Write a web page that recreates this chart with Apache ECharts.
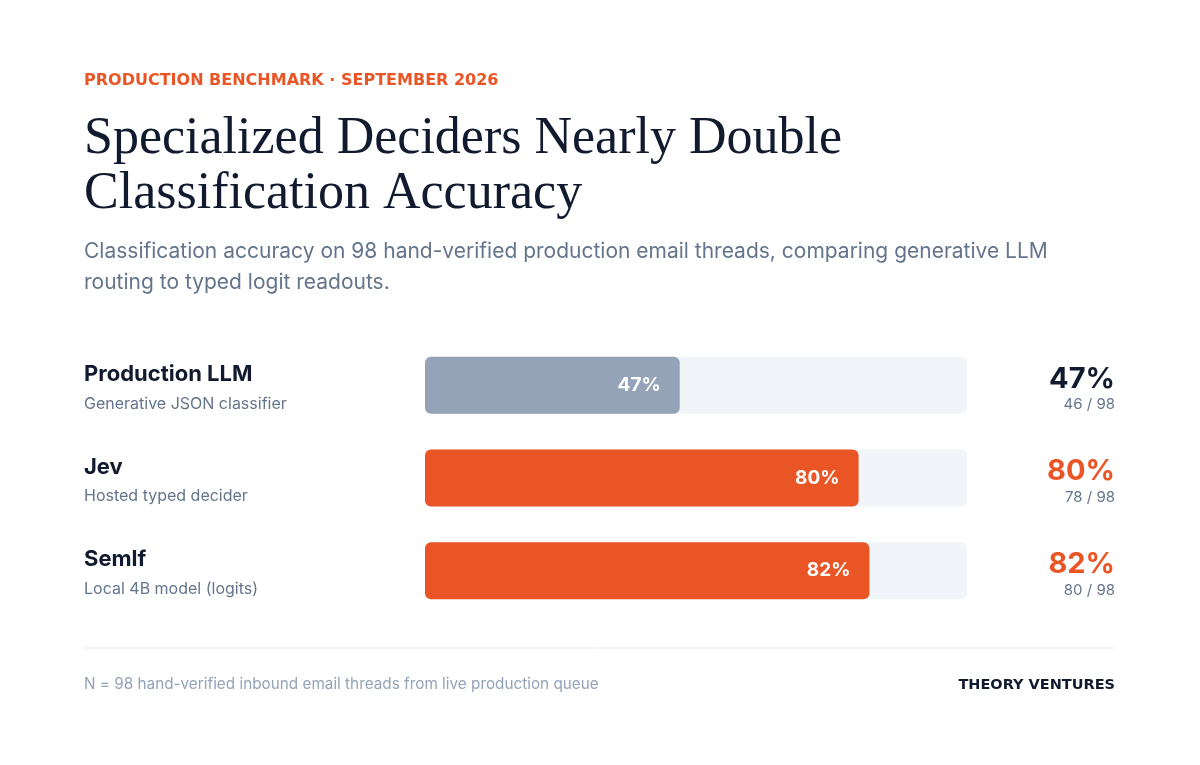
<!DOCTYPE html>
<html>
<head>
<meta charset="utf-8">
<script src="https://cdn.jsdelivr.net/npm/echarts@6/dist/echarts.min.js"></script>
<style>
  html, body { margin: 0; padding: 0; background: #ffffff; }
  #chart { width: 1200px; height: 765px; }
</style>
</head>
<body>
<div id="chart"></div>
<script>
// data
const models = ['Production LLM', 'Jev', 'Semlf'];
const descriptions = ['Generative JSON classifier', 'Hosted typed decider', 'Local 4B model (logits)'];
const accuracy = [47, 80, 82];   // % shown on the bars
const correct = [46, 78, 80];    // threads classified right
const total = 98;

const ORANGE = '#ea5525';
const SLATE = '#94a3b8';
const INK = '#111a2e';
const MUTED = '#64748b';
const SANS = 'Inter, "Noto Sans", sans-serif';
const SERIF = '"Liberation Serif", serif';

const chart = echarts.init(document.getElementById('chart'));

const option = {
  backgroundColor: '#ffffff',
  animation: false,
  grid: { left: 425, width: 542, top: 339, height: 278 },
  xAxis: {
    type: 'value', min: 0, max: 100,
    show: false
  },
  yAxis: [
    {
      type: 'category', data: models, inverse: true,
      axisLine: { show: false }, axisTick: { show: false },
      axisLabel: {
        align: 'left', margin: 341,
        formatter: (v, i) => '{name|' + v + '}\n{desc|' + descriptions[i] + '}',
        rich: {
          name: { fontFamily: SANS, fontSize: 22, fontWeight: 700, color: INK, lineHeight: 37 },
          desc: { fontFamily: SANS, fontSize: 16, color: MUTED, lineHeight: 22 }
        }
      }
    },
    {
      type: 'category', data: models, inverse: true, position: 'right',
      axisLine: { show: false }, axisTick: { show: false },
      axisLabel: {
        align: 'right', margin: 148,
        formatter: (v, i) => '{' + (i === 0 ? 'bigDark' : 'big') + '|' + accuracy[i] + '%}\n{count|' + correct[i] + ' / ' + total + '}',
        rich: {
          bigDark: { fontFamily: SANS, fontSize: 29, fontWeight: 700, color: INK, lineHeight: 39 },
          big: { fontFamily: SANS, fontSize: 29, fontWeight: 700, color: ORANGE, lineHeight: 39 },
          count: { fontFamily: SANS, fontSize: 15, color: MUTED, lineHeight: 13 }
        }
      }
    }
  ],
  series: [{
    type: 'bar',
    barWidth: 57,
    data: accuracy.map((v, i) => ({ value: v, itemStyle: { color: i === 0 ? SLATE : ORANGE } })),
    itemStyle: { borderRadius: 6 },
    showBackground: true,
    backgroundStyle: { color: '#f1f4f8', borderRadius: 6 },
    label: {
      show: true, position: 'insideRight', distance: 19,
      formatter: p => p.value + '%',
      fontFamily: SANS, fontSize: 19, fontWeight: 700, color: '#ffffff'
    }
  }],
  graphic: [
    { type: 'text', left: 84, top: 73, style: {
      text: 'PRODUCTION BENCHMARK · SEPTEMBER 2026',
      font: '700 16px "DejaVu Sans", sans-serif', fill: ORANGE } },
    { type: 'text', left: 84, top: 112, style: {
      text: 'Specialized Deciders Nearly Double\nClassification Accuracy',
      font: '52px ' + SERIF, fill: INK, lineHeight: 55 } },
    { type: 'text', left: 84, top: 236, style: {
      text: 'Classification accuracy on 98 hand-verified production email threads, comparing generative LLM\nrouting to typed logit readouts.',
      font: '21px ' + SANS, fill: MUTED, lineHeight: 31 } },
    { type: 'line', shape: { x1: 84, y1: 648, x2: 1115, y2: 648 },
      style: { stroke: '#e5e9ef', lineWidth: 1 } },
    { type: 'text', left: 84, top: 677, style: {
      text: 'N = 98 hand-verified inbound email threads from live production queue',
      font: '15.3px ' + SANS, fill: SLATE } },
    { type: 'text', right: 85, top: 678, style: {
      text: 'THEORY VENTURES',
      font: '700 14.5px "DejaVu Sans", sans-serif', fill: INK } }
  ]
};

chart.setOption(option);
</script>
</body>
</html>
